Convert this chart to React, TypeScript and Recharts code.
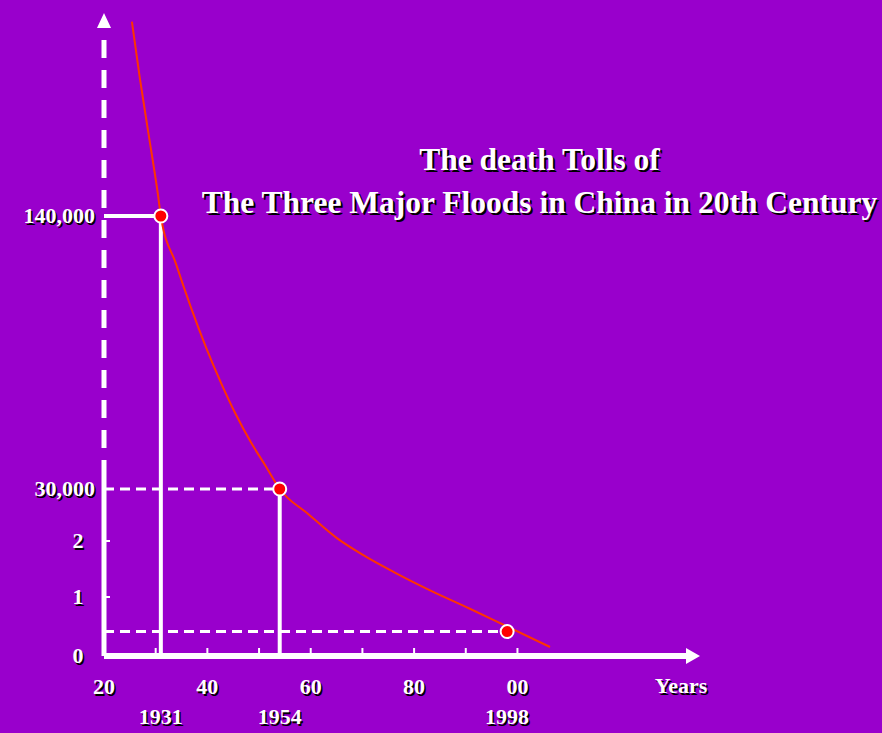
import {
  ComposedChart,
  Line,
  Scatter,
  XAxis,
  YAxis,
  ReferenceLine,
  ReferenceDot,
  Label,
} from "recharts";

// flood events
const floodYears = [1931, 1954, 1998];
const floodDeaths = [140000, 30000, 4150];

// red trend curve
const curveYears = [
  1925.4, 1926.9, 1928.6, 1930.4, 1931, 1933.9, 1936.8, 1939.7, 1942.6, 1945.5,
  1948.4, 1951.3, 1954, 1959.5, 1965.0, 1970.5, 1976.0, 1983.3, 1990.7, 1998.0,
  2006.3,
];
const curveDeaths = [
  218300, 196100, 173300, 149200, 140000, 120900, 103300, 87300, 73000, 60100,
  48900, 39200, 30000, 25200, 20600, 17300, 14500, 11100, 8050, 5000, 1530,
];

// the y axis is broken: it is stretched below 30,000 and squeezed above
const breakDeaths = [0, 10000, 20000, 30000, 140000];
const breakUnits = [0, 0.59, 1.15, 1.67, 4.4];

const yTickDeaths = [0, 10000, 20000, 30000, 140000];
const yTickLabels = ["0", "1", "2", "30,000", "140,000"];

const decadeTicks = [1920, 1930, 1940, 1950, 1960, 1970, 1980, 1990, 2000];
const labelledDecades = [1920, 1940, 1960, 1980, 2000];

const toUnits = (d: number) => {
  let i = 0;
  while (i < breakDeaths.length - 2 && d > breakDeaths[i + 1]) i++;
  const d0 = breakDeaths[i];
  const d1 = breakDeaths[i + 1];
  const u0 = breakUnits[i];
  const u1 = breakUnits[i + 1];
  return u0 + ((d - d0) / (d1 - d0)) * (u1 - u0);
};

const curve = curveYears.map((year, i) => ({ year, u: toUnits(curveDeaths[i]) }));
const floods = floodYears.map((year, i) => ({ year, u: toUnits(floodDeaths[i]) }));
const yTickUnits = yTickDeaths.map(toUnits);
const xTicks = [...decadeTicks, ...floodYears].sort((a, b) => a - b);

const FONT = '"Liberation Serif", "Times New Roman", serif';
const BG = "#9900cc";

function ShadowText({ x, y, anchor, children }: any) {
  const common = {
    textAnchor: anchor,
    fontFamily: FONT,
    fontWeight: "bold",
    fontSize: 22,
  };
  return (
    <g>
      <text x={x + 1.5} y={y + 1.5} fill="#000" {...common}>
        {children}
      </text>
      <text x={x} y={y} fill="#fff" {...common}>
        {children}
      </text>
    </g>
  );
}

function XTick({ x, y, payload }: any) {
  const v = payload.value;
  if (floodYears.includes(v)) {
    return (
      <ShadowText x={x} y={y + 68} anchor="middle">
        {String(v)}
      </ShadowText>
    );
  }
  return (
    <g>
      {v > 1920 && (
        <line x1={x} x2={x} y1={y - 8} y2={y} stroke="#fff" strokeWidth={2} />
      )}
      {labelledDecades.includes(v) && (
        <ShadowText x={x} y={y + 38} anchor="middle">
          {String(v).slice(2)}
        </ShadowText>
      )}
    </g>
  );
}

function YTick({ x, y, payload }: any) {
  const i = yTickUnits.indexOf(payload.value);
  const label = yTickLabels[i];
  const big = label.length > 1;
  return (
    <g>
      {(label === "1" || label === "2") && (
        <line x1={x} x2={x + 6} y1={y} y2={y} stroke="#fff" strokeWidth={2} />
      )}
      <ShadowText x={big ? x - 9 : x - 26} y={y + 7} anchor={big ? "end" : "middle"}>
        {label}
      </ShadowText>
    </g>
  );
}

export default function App() {
  const u140 = toUnits(140000);
  const u30 = toUnits(30000);
  const u1998 = toUnits(4150);
  return (
    <div
      style={{
        position: "absolute",
        left: 0,
        top: 0,
        width: 882,
        height: 733,
        background: BG,
        overflow: "hidden",
      }}
    >
      <ComposedChart
        width={882}
        height={733}
        margin={{ top: 13, right: 194, bottom: 17, left: 14 }}
      >
        <XAxis
          type="number"
          dataKey="year"
          domain={[1920, 2033]}
          ticks={xTicks}
          interval={0}
          height={60}
          tickSize={0}
          tickMargin={0}
          tickLine={false}
          axisLine={{ stroke: "#fff", strokeWidth: 6 }}
          tick={<XTick />}
        >
          <Label
            content={({ viewBox }: any) => (
              <ShadowText
                x={viewBox.x + viewBox.width - 7}
                y={viewBox.y + 37}
                anchor="middle"
              >
                Years
              </ShadowText>
            )}
          />
        </XAxis>
        <YAxis
          type="number"
          domain={[0, 6.43]}
          ticks={yTickUnits}
          interval={0}
          width={90}
          tickSize={0}
          tickMargin={0}
          tickLine={false}
          axisLine={false}
          tick={<YTick />}
        />

        {/* y axis: dashed on the upper part, solid near the bottom */}
        <ReferenceLine
          segment={[
            { x: 1920, y: 6.16 },
            { x: 1920, y: 1.86 },
          ]}
          stroke="#fff"
          strokeWidth={5}
          strokeDasharray="18 12"
        />
        <ReferenceLine
          segment={[
            { x: 1920, y: 1.86 },
            { x: 1920, y: 0 },
          ]}
          stroke="#fff"
          strokeWidth={5}
        />

        <ReferenceLine
          segment={[
            { x: 1920, y: u140 },
            { x: 1931, y: u140 },
          ]}
          stroke="#fff"
          strokeWidth={4}
        />
        <ReferenceLine
          segment={[
            { x: 1931, y: u140 },
            { x: 1931, y: 0 },
          ]}
          stroke="#fff"
          strokeWidth={4}
        />
        <ReferenceLine
          segment={[
            { x: 1920, y: u30 },
            { x: 1954, y: u30 },
          ]}
          stroke="#fff"
          strokeWidth={3}
          strokeDasharray="10 6"
        />
        <ReferenceLine
          segment={[
            { x: 1954, y: u30 },
            { x: 1954, y: 0 },
          ]}
          stroke="#fff"
          strokeWidth={4}
        />
        <ReferenceLine
          segment={[
            { x: 1920, y: u1998 },
            { x: 1998, y: u1998 },
          ]}
          stroke="#fff"
          strokeWidth={3}
          strokeDasharray="10 6"
        />

        {/* arrow heads */}
        <ReferenceDot
          x={2033}
          y={0}
          r={0}
          ifOverflow="visible"
          shape={(p: any) => (
            <polygon
              points={`${p.cx - 2},${p.cy - 8} ${p.cx + 12},${p.cy} ${p.cx - 2},${p.cy + 8}`}
              fill="#fff"
            />
          )}
        />
        <ReferenceDot
          x={1920}
          y={6.43}
          r={0}
          ifOverflow="visible"
          shape={(p: any) => (
            <polygon
              points={`${p.cx},${p.cy} ${p.cx + 7},${p.cy + 15} ${p.cx - 7},${p.cy + 15}`}
              fill="#fff"
            />
          )}
        />

        <Scatter
          data={floods}
          dataKey="u"
          isAnimationActive={false}
          shape={(p: any) => (
            <circle cx={p.cx} cy={p.cy} r={6.5} fill="#ff0000" stroke="#fff" strokeWidth={2} />
          )}
        />
        <Line
          data={curve}
          dataKey="u"
          type="monotone"
          stroke="#ff3300"
          strokeWidth={2}
          dot={false}
          activeDot={false}
          isAnimationActive={false}
        />
      </ComposedChart>

      <div
        style={{
          position: "absolute",
          left: 197,
          top: 138,
          width: 685,
          textAlign: "center",
          fontFamily: FONT,
          fontWeight: "bold",
          fontSize: 31.5,
          lineHeight: "43px",
          color: "#fff",
          textShadow: "2px 2px 0 #000",
          whiteSpace: "nowrap",
        }}
      >
        <div>The death Tolls of</div>
        <div>The Three Major Floods in China in 20th Century</div>
      </div>
    </div>
  );
}
